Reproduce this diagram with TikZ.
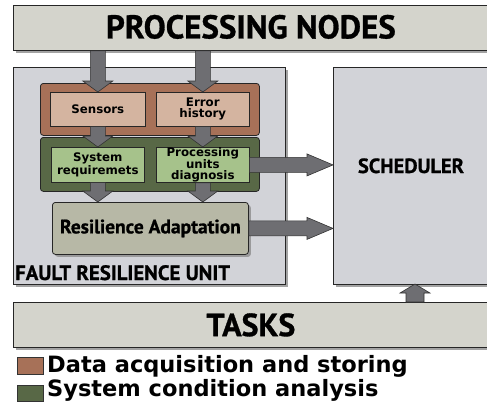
\documentclass[tikz,border=0pt]{standalone}
\usepackage{fontspec}
\newfontfamily\headfont{PT Sans}[BoldFeatures={FakeBold=0.9}]
\newfontfamily\boxfont{DejaVu Sans}
\usetikzlibrary{calc,shadows}

\definecolor{barfill}{RGB}{212,212,204}
\definecolor{unitfill}{RGB}{210,211,216}
\definecolor{acqdark}{RGB}{167,113,88}
\definecolor{acqlight}{RGB}{212,180,160}
\definecolor{anadark}{RGB}{88,104,70}
\definecolor{analight}{RGB}{166,194,139}
\definecolor{adaptfill}{RGB}{183,184,166}
\definecolor{arrowfill}{RGB}{110,110,114}

% fat outlined arrow from #4 to #5
% #1 shaft half width, #2 head half width, #3 head length
\newcommand\fatarrow[5]{%
  \draw[fatarrow] let \p1=($(#5)!#3!(#4)$) in
    ($(#4)!#1!90:(#5)$) -- ($(\p1)!#1!90:(#5)$) -- ($(\p1)!#2!90:(#5)$)
    -- (#5) -- ($(\p1)!#2!-90:(#5)$) -- ($(\p1)!#1!-90:(#5)$)
    -- ($(#4)!#1!-90:(#5)$) -- cycle;}

\tikzset{
  box/.style={draw=black!85, line width=0.8pt, anchor=north west, inner sep=0pt},
  shadowed/.style={drop shadow={shadow xshift=2.5pt, shadow yshift=-2.5pt,
      fill=black!45, opacity=.8}},
  bar/.style={box, shadowed, fill=barfill, font=\headfont\bfseries\fontsize{33}{33}\selectfont},
  unit/.style={box, shadowed, fill=unitfill},
  small/.style={box, line width=0.6pt, align=center,
      font=\boxfont\bfseries\fontsize{11.8}{11.2}\selectfont},
  fatarrow/.style={fill=arrowfill, draw=black!80, line width=0.6pt, line join=miter},
  legbox/.style={draw=black!80, line width=0.6pt, anchor=north west, inner sep=0pt},
  legtext/.style={anchor=base west, inner sep=0pt, font=\boxfont\bfseries\fontsize{22.5}{22.5}\selectfont}
}

\begin{document}
\begin{tikzpicture}[x=1pt, y=-1pt]
  \useasboundingbox (0,0) rectangle (487,402);

  % top and bottom bars
  \node[bar, minimum width=475, minimum height=45] (pn) at (13,5) {\raisebox{2.5pt}{PROCESSING NODES}};
  \node[bar, minimum width=475, minimum height=45, font=\headfont\bfseries\fontsize{32}{32}\selectfont] (tasks) at (13,302) {TASKS};

  % fault resilience unit and scheduler
  \node[unit, minimum width=272, minimum height=217] (fru) at (13,67) {};
  \node[unit, minimum width=155, minimum height=217] (sched) at (333,67) {};
  \node[anchor=base, font=\headfont\bfseries\fontsize{20.5}{20.5}\selectfont] (schedname) at (411,173) {SCHEDULER};
  \node[anchor=base west, inner sep=0pt, font=\headfont\bfseries\fontsize{20.8}{20.8}\selectfont] (fruname) at (15,280) {FAULT RESILIENCE UNIT};

  % data acquisition group
  \node[box, rounded corners=3pt, fill=acqdark, minimum width=219, minimum height=52] (acq) at (40,83) {};
  \node[small, fill=acqlight, minimum width=95, minimum height=34] (sens) at (50,92) {Sensors};
  \node[small, fill=acqlight, minimum width=93, minimum height=34] (err) at (156,92) {Error\\history};

  % condition analysis group
  \node[box, rounded corners=3pt, fill=anadark, minimum width=219, minimum height=54] (ana) at (40,137) {};
  \node[small, fill=analight, minimum width=93, minimum height=35] (sysreq) at (51,147) {System\\requiremets};
  \node[small, fill=analight, minimum width=93, minimum height=35] (diag) at (156,147) {Processing\\units\\diagnosis};

  \node[box, shadowed, rounded corners=3pt, fill=adaptfill, minimum width=196, minimum height=52,
        font=\headfont\bfseries\fontsize{19.5}{19.5}\selectfont] (resil) at (52,202) {Resilience Adaptation};

  % arrows
  \coordinate (pn1) at (sens.north |- pn.south);
  \coordinate (pn2) at (err.north |- pn.south);
  \coordinate (rs1) at (sysreq.south |- resil.north);
  \coordinate (rs2) at (diag.south |- resil.north);
  \coordinate (sc1) at (sched.west |- diag.east);
  \coordinate (sc2) at (sched.west |- resil.east);
  \coordinate (tk1) at (415,302);
  \coordinate (sc3) at (415,284);
  \fatarrow{7.5pt}{15pt}{11pt}{pn1}{sens.north}
  \fatarrow{7.5pt}{15pt}{11pt}{pn2}{err.north}
  \fatarrow{7.5pt}{15pt}{11pt}{sens.south}{sysreq.north}
  \fatarrow{7.5pt}{15pt}{11pt}{err.south}{diag.north}
  \fatarrow{7.5pt}{15pt}{11pt}{sysreq.south}{rs1}
  \fatarrow{7.5pt}{15pt}{11pt}{diag.south}{rs2}
  \fatarrow{7.5pt}{11pt}{26pt}{diag.east}{sc1}
  \fatarrow{7.5pt}{11pt}{26pt}{resil.east}{sc2}
  \fatarrow{9pt}{15pt}{9pt}{tk1}{sc3}

  % legend
  \node[legbox, fill=acqdark, minimum width=26, minimum height=17] (leg1) at (17,357) {};
  \node[legbox, fill=anadark, minimum width=26, minimum height=16] (leg2) at (17,385) {};
  \node[legtext] (leg1text) at (47,372.5) {Data acquisition and storing};
  \node[legtext] (leg2text) at (47,396.5) {System condition analysis};
\end{tikzpicture}
\end{document}
